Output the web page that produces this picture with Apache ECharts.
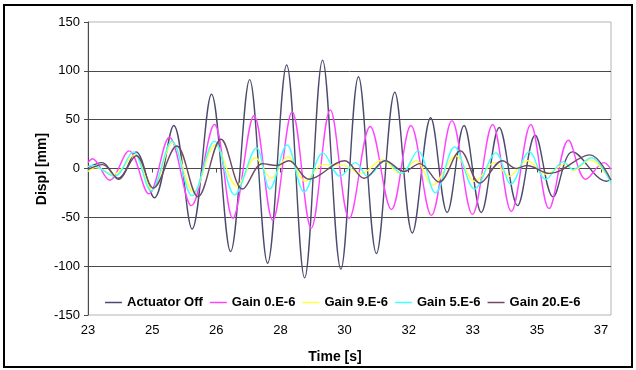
<!DOCTYPE html>
<html>
<head>
<meta charset="utf-8">
<script src="https://cdn.jsdelivr.net/npm/echarts@6/dist/echarts.min.js"></script>
<style>
  html, body { margin: 0; padding: 0; background: #fff; }
  #chart { width: 636px; height: 370px; }
</style>
</head>
<body>
<div id="chart"></div>
<script>
// tick labels as printed on the time axis (one every 1.75 s from 23)
const xTickLabels = ['23', '25', '26', '28', '30', '32', '33', '35', '37'];

const seriesNames = ['Actuator Off', 'Gain 0.E-6', 'Gain 9.E-6', 'Gain 5.E-6', 'Gain 20.E-6'];
const seriesColors = ['#4b4b6e', '#ff44ff', '#ffff44', '#44ffff', '#6e4a66'];

// turning points: time [s] / displ [mm]
const offTime = [23.00, 23.38, 23.83, 24.31, 24.81, 25.34, 25.84, 26.37, 26.89, 27.41, 27.90, 28.42, 28.91, 29.40, 29.90, 30.38, 30.87, 31.37, 31.85, 32.35, 32.80, 33.26, 33.73, 34.22, 34.72, 35.20, 35.69, 36.22, 37.15, 37.27];
const offDispl = [1, 6, -11, 17, -30, 44, -62, 76, -85, 91, -97, 106, -112, 111, -103, 94, -87, 78, -66, 52, -45, 44, -45, 42, -38, 34, -29, 17, -13, -11];

const g0Time = [23.00, 23.12, 23.59, 24.12, 24.66, 25.22, 25.82, 26.45, 26.95, 27.53, 28.04, 28.57, 29.09, 29.61, 30.13, 30.70, 31.28, 31.81, 32.37, 32.93, 33.49, 34.04, 34.55, 35.08, 35.58, 36.11, 36.58, 37.08, 37.27];
const g0Displ = [6, 10, -12, 18, -26, 32, -38, 45, -51, 54, -53, 58, -61, 60, -51, 43, -42, 44, -48, 49, -47, 45, -44, 45, -41, 29, -11, 6, -1];

const g9Time = [23.00, 23.20, 23.70, 24.27, 24.75, 25.30, 25.88, 26.47, 27.06, 27.57, 28.00, 28.45, 28.93, 29.41, 30.00, 30.45, 31.04, 31.50, 31.95, 32.40, 33.04, 33.55, 34.09, 34.49, 34.99, 35.49, 36.04, 36.25, 36.69, 37.27];
const g9Displ = [-3, 1, -6, 14, -22, 26, -24, 24, -18, 11, -10, 12, -13, 4, 3, -5, 9, -5, 8, -17, 13, -13, 6, -8, 8, -6, 5, -2, 9, -13];

const g5Time = [23.00, 23.12, 23.73, 24.23, 24.72, 25.29, 25.84, 26.45, 27.00, 27.60, 27.96, 28.43, 28.90, 29.41, 29.88, 30.30, 30.63, 31.12, 31.55, 32.00, 32.48, 33.00, 33.55, 34.13, 34.54, 35.04, 35.49, 35.97, 36.23, 36.73, 37.27];
const g5Displ = [2, 3, -8, 17, -23, 28, -28, 28, -27, 21, -21, 24, -24, 16, -8, 6, -8, 8, -5, 18, -25, 22, -21, 16, -16, 17, -11, 7, -1, 11, -15];

const g20Time = [23.00, 23.40, 23.82, 24.32, 24.78, 25.42, 26.00, 26.63, 27.22, 27.76, 28.15, 28.48, 29.03, 30.00, 30.54, 31.11, 31.62, 32.05, 32.58, 33.16, 33.69, 34.31, 34.68, 34.97, 35.60, 36.69, 37.27];
const g20Displ = [-1, 4, -10, 13, -20, 23, -29, 30, -21, 5, 3, 8, -11, 8, -10, 8, -3, 5, -14, 18, -15, 8, 0, 3, -5, 14, -12];

const times = [offTime, g0Time, g9Time, g5Time, g20Time];
const displs = [offDispl, g0Displ, g9Displ, g5Displ, g20Displ];

const font = '"Liberation Sans", Arial, sans-serif';

let myChart = echarts.init(document.getElementById('chart'));

let series = seriesNames.map((name, k) => ({
  name: name,
  type: 'line',
  symbol: 'none',
  smooth: 0.36,
  data: times[k].map((t, i) => [t, displs[k][i]]),
  lineStyle: { color: seriesColors[k], width: 1.4 },
  itemStyle: { color: seriesColors[k] },
}));

let option = {
  backgroundColor: '#fff',
  animation: false,
  grid: {
    left: 88,
    right: 25,
    top: 22,
    bottom: 55,
    show: true,
    borderColor: '#b4b4b4',
    borderWidth: 1,
  },
  legend: {
    left: 105,
    top: 296,
    padding: 0,
    icon: 'rect',
    itemWidth: 17,
    itemHeight: 1.5,
    itemGap: 7,
    data: seriesNames,
    textStyle: { fontFamily: font, fontSize: 13, fontWeight: 'bold', color: '#000' },
  },
  xAxis: {
    type: 'value',
    min: 23,
    max: 37.27,
    interval: 1.75,
    axisLine: { lineStyle: { color: '#4a4a4a', width: 1 } },
    axisTick: { show: true, length: 4, lineStyle: { color: '#4a4a4a' } },
    axisLabel: {
      showMaxLabel: false,
      margin: 9,
      fontFamily: font,
      fontSize: 13,
      color: '#000',
      formatter: function (v) {
        let i = Math.round((v - 23) / 1.75);
        return xTickLabels[i] || '';
      },
    },
    splitLine: { show: false },
  },
  yAxis: {
    type: 'value',
    min: -150,
    max: 150,
    interval: 50,
    axisLine: { show: true, lineStyle: { color: '#4a4a4a', width: 1 } },
    axisTick: { show: true, length: 4, lineStyle: { color: '#4a4a4a' } },
    axisLabel: { margin: 8, fontFamily: font, fontSize: 13, color: '#000' },
    splitLine: {
      show: true,
      showMinLine: false,
      showMaxLine: false,
      lineStyle: { color: '#4a4a4a', width: 1 },
    },
  },
  graphic: [
    {
      type: 'rect',
      silent: true,
      shape: { x: 4, y: 5, width: 628, height: 362 },
      style: { fill: 'none', stroke: '#000', lineWidth: 2 },
    },
    {
      type: 'text',
      x: 335,
      y: 357,
      style: { text: 'Time [s]', font: 'bold 14px ' + font, fill: '#000', align: 'center', verticalAlign: 'middle' },
    },
    {
      type: 'text',
      x: 42,
      y: 169,
      rotation: Math.PI / 2,
      style: { text: 'Displ [mm]', font: 'bold 14px ' + font, fill: '#000', align: 'center', verticalAlign: 'middle' },
    },
  ],
  series: series,
};
myChart.setOption(option);
</script>
</body>
</html>
